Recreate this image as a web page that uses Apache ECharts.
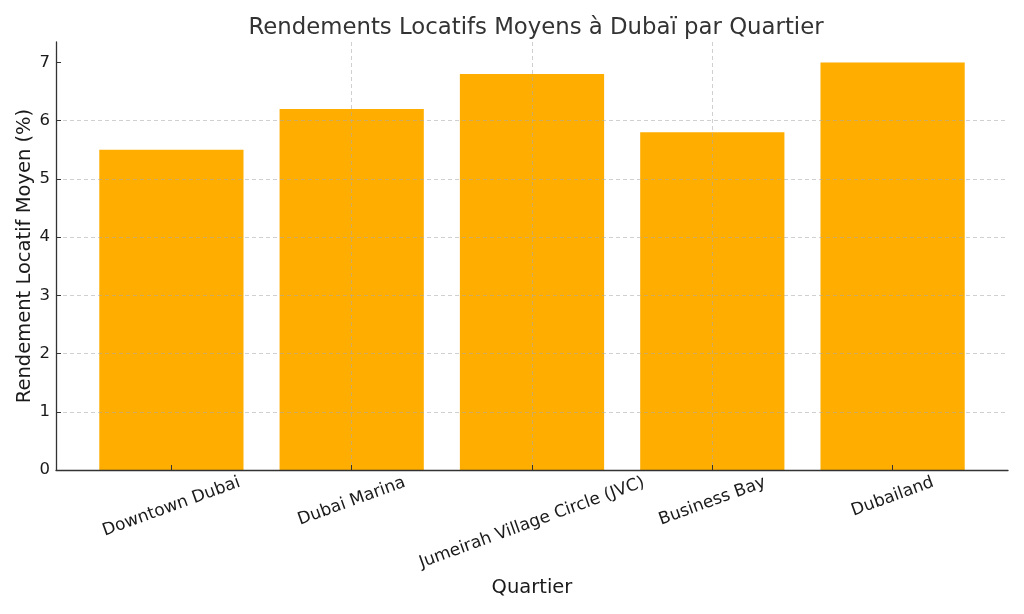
<!DOCTYPE html>
<html>
<head>
<meta charset="utf-8">
<script src="https://cdn.jsdelivr.net/npm/echarts@6/dist/echarts.min.js"></script>
<style>html,body{margin:0;padding:0;background:#fff}#c{width:1024px;height:614px}</style>
</head>
<body>
<div id="c"></div>
<script>
const categories = ["Downtown Dubai", "Dubai Marina", "Jumeirah Village Circle (JVC)", "Business Bay", "Dubailand"];
const yields = [5.5, 6.2, 6.8, 5.8, 7.0];
const yTicks = [0, 1, 2, 3, 4, 5, 6, 7];

const FONT = '"DejaVu Sans", sans-serif';
const LABEL_SIZE = 17;
const ROT = 20 * Math.PI / 180;

// measure label widths to centre rotated labels like matplotlib (ha=center)
const cv = document.createElement('canvas').getContext('2d');
cv.font = LABEL_SIZE + 'px ' + FONT;
const rich = {};
categories.forEach((c, i) => {
  const w = cv.measureText(c).width;
  const D = w * Math.sin(ROT) / 2;
  rich['k' + i] = {
    fontSize: LABEL_SIZE, fontFamily: FONT, color: '#1a1a1a',
    padding: [2 * D * Math.cos(ROT), 2 * D * Math.sin(ROT), 0, 0]
  };
});

const chart = echarts.init(document.getElementById('c'), null, {renderer: 'canvas'});
chart.setOption({
  animation: false,
  backgroundColor: '#fff',
  title: {
    text: 'Rendements Locatifs Moyens à Dubaï par Quartier',
    left: 531, top: 12, textAlign: 'center',
    textStyle: {fontFamily: FONT, fontSize: 22.8, fontWeight: 'normal', color: '#333'}
  },
  grid: {left: 56, right: 16, top: 42, bottom: 144, containLabel: false},
  xAxis: {
    type: 'value', min: -0.64, max: 4.64, z: 3,
    name: 'Quartier', nameLocation: 'middle', nameGap: 101,
    nameTextStyle: {fontFamily: FONT, fontSize: 19.5, color: '#1a1a1a'},
    axisLine: {show: true, onZero: false, lineStyle: {color: '#333', width: 1.3}},
    axisTick: {show: true, inside: true, length: 5, lineStyle: {color: '#333'}, customValues: [0, 1, 2, 3, 4]},
    axisLabel: {
      rotate: 20, align: 'center', verticalAlign: 'middle', margin: 12,
      customValues: [0, 1, 2, 3, 4],
      formatter: v => Number.isInteger(v) && categories[v] !== undefined ? '{k' + v + '|' + categories[v] + '}' : '',
      rich: rich
    },
    splitLine: {show: true, showMinLine: false, showMaxLine: false,
      lineStyle: {color: 'rgba(170,170,170,0.55)', type: [4, 3], width: 1}}
  },
  yAxis: {
    type: 'value', min: 0, max: 7.35, interval: 1, z: 3,
    name: 'Rendement Locatif Moyen (%)', nameLocation: 'middle', nameGap: 21,
    nameMoveOverlap: false,
    nameTextStyle: {fontFamily: FONT, fontSize: 19.5, color: '#1a1a1a'},
    axisLine: {show: true, onZero: false, lineStyle: {color: '#333', width: 1.3}},
    axisTick: {show: true, inside: true, length: 5, lineStyle: {color: '#333'}, customValues: yTicks},
    axisLabel: {
      margin: 6, fontFamily: FONT, fontSize: 16.5, color: '#1a1a1a',
      customValues: yTicks,
      formatter: v => Number.isInteger(v) ? String(v) : ''
    },
    splitLine: {show: true, showMinLine: false, showMaxLine: false,
      lineStyle: {color: 'rgba(170,170,170,0.55)', type: [4, 3], width: 1}}
  },
  series: [{
    type: 'bar',
    data: yields.map((v, i) => [i, v]),
    barWidth: '80%',
    itemStyle: {color: '#FFAE00'}
  }]
});
</script>
</body>
</html>
